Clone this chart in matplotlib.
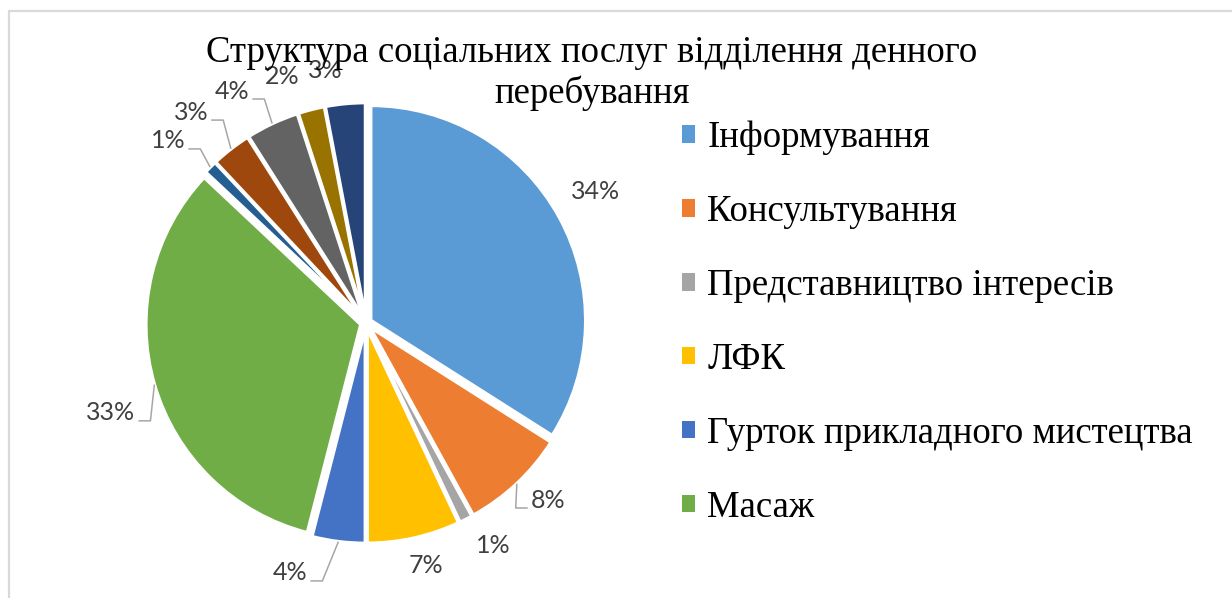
import numpy as np
import matplotlib
matplotlib.use('Agg')
import matplotlib.pyplot as plt
from matplotlib.patches import Patch
from matplotlib.lines import Line2D

# ---------------------------------------------------------------------------
# data (clockwise from 12 o'clock)
shares = [34, 8, 1, 7, 4, 33, 1, 3, 4, 2, 3]
pct_labels = ['34%', '8%', '1%', '7%', '4%', '33%', '1%', '3%', '4%', '2%', '3%']
legend_names = ['Інформування', 'Консультування', 'Представництво інтересів',
                'ЛФК', 'Гурток прикладного мистецтва', 'Масаж']
colors = ['#5B9BD5', '#ED7D31', '#A5A5A5', '#FFC000', '#4472C4', '#70AD47',
          '#255E91', '#9E480E', '#636363', '#997300', '#264478']
title = 'Структура соціальних послуг відділення денного\nперебування'

# label placement: distance from centre (radius units), angle shift (deg),
# and whether an Excel-style leader line is drawn
lab_dist = [1.231, 1.181, 1.19, 1.164, 1.215, 1.258, 1.251, 1.275, 1.246, 1.212, 1.19]
lab_shift = [-0.9, -2.6, -2.8, -1.3, 9.7, -3.2, -2.4, -1.9, -4.8, -4.4, -3.8]
lab_leader = [False, True, False, False, True, True, True, True, True, False, False]

# ---------------------------------------------------------------------------
W, H = 1232, 598
fig = plt.figure(figsize=(W / 100, H / 100), dpi=100)

# pie centre (366, 323) px, radius 215 px
R_px = 215
L = 1.2
cx, cy = 366, 323
half = R_px * L
ax = fig.add_axes([(cx - half) / W, (H - cy - half) / H, 2 * half / W, 2 * half / H])

expl = 0.025
wedges, _ = ax.pie(shares, colors=colors, startangle=90, counterclock=False,
                   explode=[expl] * len(shares),
                   wedgeprops=dict(edgecolor='white', linewidth=2.5))
ax.set_xlim(-L, L)
ax.set_ylim(-L, L)
ax.set_aspect('equal')
ax.axis('off')

px = 1.0 / R_px   # one pixel in data units
total = float(sum(shares))
cum = np.cumsum([0] + shares)
fig.canvas.draw()
renderer = fig.canvas.get_renderer()

for i, lab in enumerate(pct_labels):
    mid = (cum[i] + shares[i] / 2.0) / total * 360.0
    th = np.deg2rad(mid + lab_shift[i])
    tx, ty = lab_dist[i] * np.sin(th), lab_dist[i] * np.cos(th)
    t = ax.text(tx, ty, lab, ha='center', va='center', fontsize=18,
                color='#404040', family='Lato', zorder=5)
    if lab_leader[i]:
        bb = t.get_window_extent(renderer).transformed(ax.transData.inverted())
        thm = np.deg2rad(mid)
        ex, ey = (1 + expl) * np.sin(thm), (1 + expl) * np.cos(thm)
        ly = ty - 8 * px
        if tx < ex:
            x_end = bb.x1 + 3 * px
            x_elb = bb.x1 + 15 * px
        else:
            x_end = bb.x0 - 3 * px
            x_elb = bb.x0 - 15 * px
        ax.plot([ex, x_elb, x_end], [ey, ly, ly], color='#A6A6A6', lw=1.1,
                solid_capstyle='butt', clip_on=False)

# title
fig.text(592 / W, 1 - 73 / H, title, ha='center', va='center', fontsize=26.5,
         family='Liberation Serif', linespacing=1.19, color='black')

# legend (only the first six categories are listed in the reference)
handles = [Patch(facecolor=colors[i], edgecolor='none') for i in range(len(legend_names))]
fig.legend(handles, legend_names, loc='upper left', bbox_to_anchor=(667 / W, 1 - 106 / H),
           frameon=False, prop=dict(family='Liberation Serif', size=26.5),
           handlelength=0.36, handleheight=0.36, handletextpad=0.34,
           labelspacing=1.07, borderaxespad=0)

# chart-area frame (only the top and left edges are in view)
fig.add_artist(Line2D([8.5 / W, 8.5 / W, 1.0], [0, 1 - 10.5 / H, 1 - 10.5 / H],
                      transform=fig.transFigure, color='#D9D9D9', lw=1.6))

fig.savefig('out.png', dpi=100)
